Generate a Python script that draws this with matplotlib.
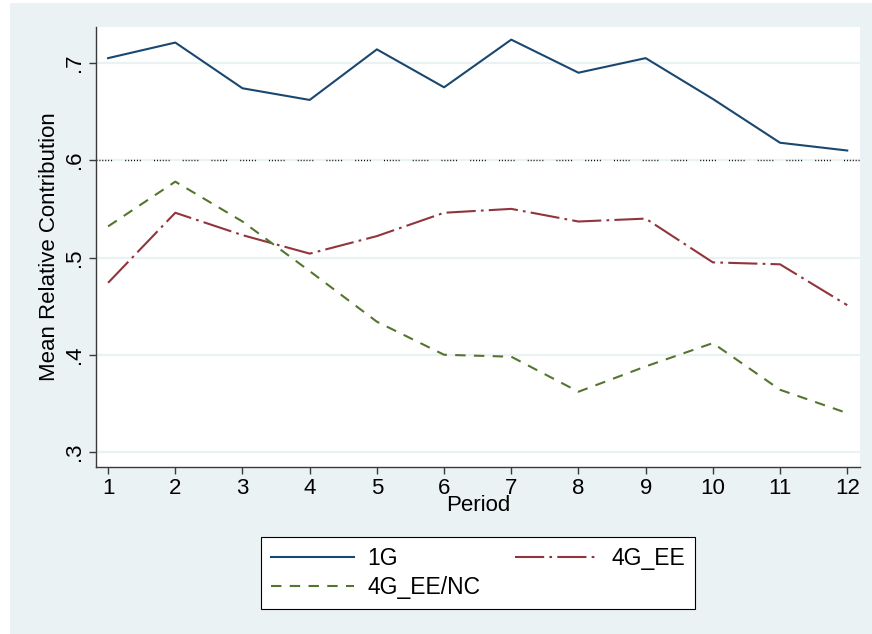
import numpy as np
import matplotlib.pyplot as plt
from matplotlib.patches import Rectangle

plt.rcParams['font.family'] = ['Liberation Sans', 'DejaVu Sans']

# mean relative contribution by period
period = np.arange(1, 13)
g1 = [0.705, 0.721, 0.674, 0.662, 0.714, 0.675, 0.724, 0.690, 0.705, 0.663, 0.618, 0.610]
g4_ee = [0.474, 0.546, 0.523, 0.504, 0.522, 0.546, 0.550, 0.537, 0.540, 0.495, 0.493, 0.451]
g4_ee_nc = [0.532, 0.578, 0.537, 0.486, 0.434, 0.400, 0.398, 0.362, 0.388, 0.412, 0.364, 0.340]
ref_level = 0.6
yticks = [0.3, 0.4, 0.5, 0.6, 0.7]
ytick_labels = ['.3', '.4', '.5', '.6', '.7']

navy = '#1a476f'
maroon = '#90353b'
green = '#55752f'
bg = '#eaf2f3'
axcol = '#3a3a3a'

fig = plt.figure(figsize=(8.72, 6.34), dpi=100, facecolor='white')
# stata-style graph region
fig.patches.append(Rectangle((10 / 872, -0.1), 1, 1.1 - 3 / 634, transform=fig.transFigure,
                             facecolor=bg, edgecolor='none', zorder=-10))

ax = fig.add_axes([96 / 872, 1 - 467 / 634, 764 / 872, 440 / 634])
ax.set_facecolor('white')

for y in yticks:
    ax.axhline(y, color=bg, lw=1.6, zorder=1)
ax.axhline(ref_level, color='black', lw=1.0, zorder=2,
           linestyle=(0, (0.7, 1.4) * 5 + (0.7, 9.5)))

ax.plot(period, g1, color=navy, lw=1.5, label='1G', zorder=3)
ax.plot(period, g4_ee, color=maroon, lw=1.5, label='4G_EE', zorder=3,
        linestyle=(0, (14, 2.5, 1.3, 2.5)))
ax.plot(period, g4_ee_nc, color=green, lw=1.5, label='4G_EE/NC', zorder=3,
        linestyle=(0, (5, 4)))

ax.set_xlim(0.82, 12.19)
ax.set_ylim(0.2846, 0.737)
ax.set_xticks(period)
ax.set_yticks(yticks)
ax.set_yticklabels(ytick_labels, rotation=90, va='center')

for s in ['top', 'right']:
    ax.spines[s].set_visible(False)
for s in ['left', 'bottom']:
    ax.spines[s].set_color(axcol)
    ax.spines[s].set_linewidth(1.0)
ax.tick_params(direction='out', length=5, width=1.0, color=axcol,
               labelsize=16, labelcolor='black', pad=3)

ax.set_xlabel('Period', fontsize=16, labelpad=-3)
ax.set_ylabel('Mean Relative Contribution', fontsize=16, labelpad=3)

h, l = ax.get_legend_handles_labels()
order = [0, 2, 1]
leg = fig.legend([h[i] for i in order], [l[i] for i in order], ncol=2,
                 loc='center', bbox_to_anchor=(478 / 872, 1 - 573 / 634),
                 bbox_transform=fig.transFigure, fontsize=16.5,
                 handlelength=3.6, handletextpad=0.6, columnspacing=1.5,
                 labelspacing=0.25, borderpad=0.45, borderaxespad=0,
                 fancybox=False, framealpha=1, edgecolor='black')
leg.get_frame().set_linewidth(0.8)

fig.savefig('out.png', dpi=100, facecolor=fig.get_facecolor())
